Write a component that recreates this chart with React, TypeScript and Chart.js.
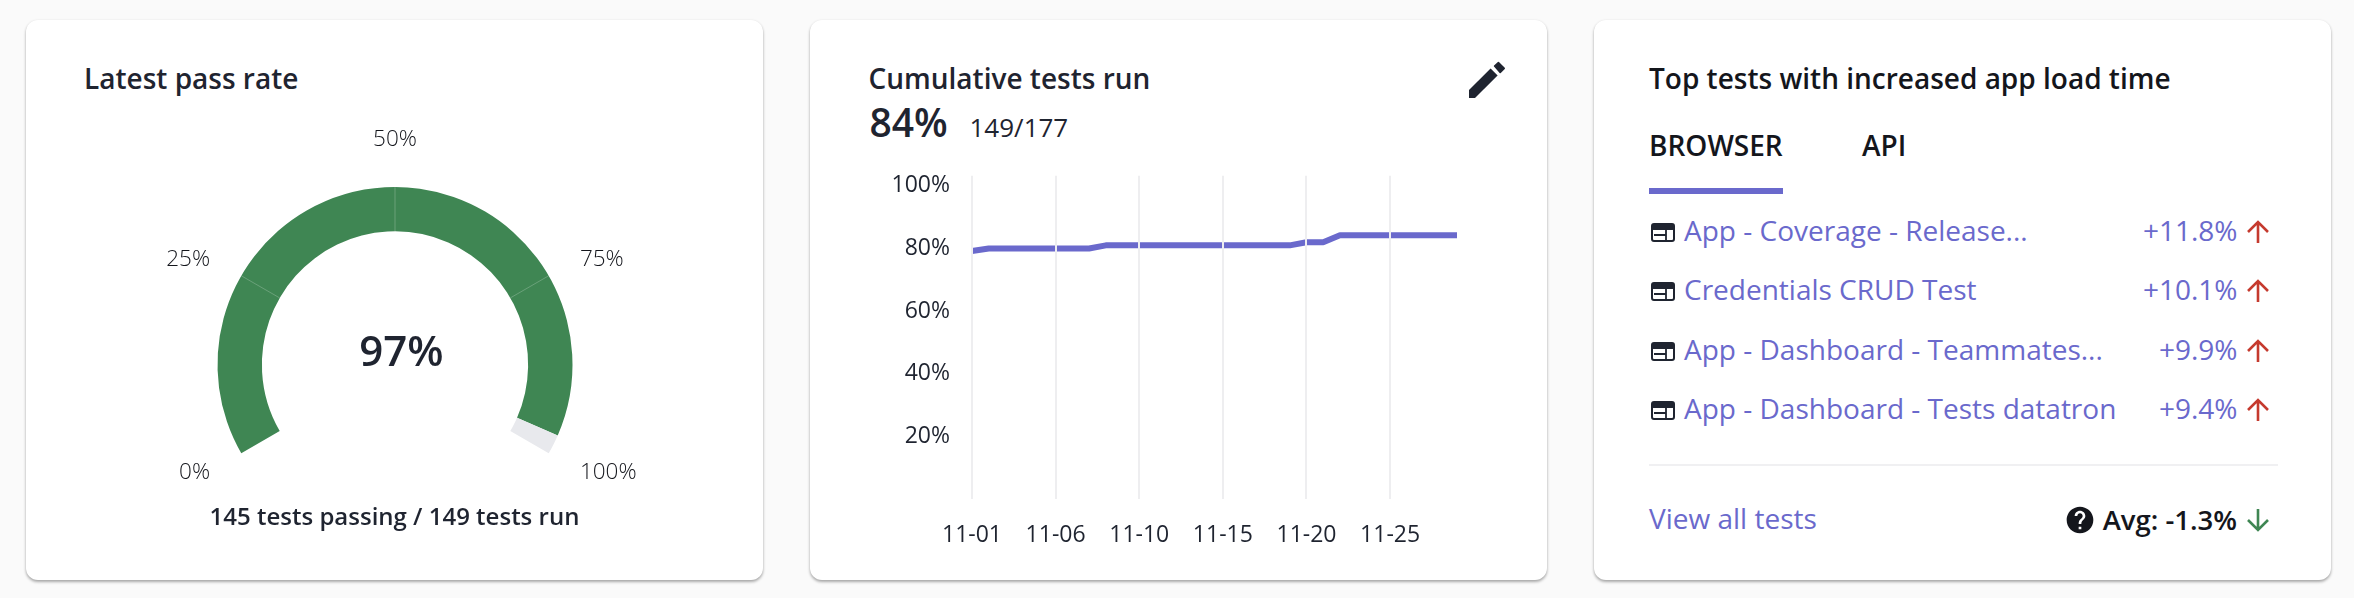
import React, { useEffect, useRef } from "react";
import { Chart, registerables } from "chart.js";

Chart.register(...registerables);

const gaugeLabels = ["Passing", "Not passing"];
const gaugeValues = [145, 4];
const gaugeTicks = [0, 25, 50, 75, 100];

const dates = [
  "11-01", "11-02", "11-03", "11-04", "11-05", "11-06", "11-07", "11-07", "11-08", "11-09",
  "11-10", "11-11", "11-12", "11-13", "11-14", "11-15", "11-16", "11-17", "11-18", "11-19",
  "11-20", "11-21", "11-22", "11-23", "11-24", "11-25", "11-26", "11-27", "11-28", "11-29",
];
const cumulative = [
  79.2, 80, 80, 80, 80, 80, 80, 80, 81, 81,
  81, 81, 81, 81, 81, 81, 81, 81, 81, 81,
  82, 82, 84.2, 84.2, 84.2, 84.2, 84.2, 84.2, 84.2, 84.2,
];

const testNames = [
  "App - Coverage - Release...",
  "Credentials CRUD Test",
  "App - Dashboard - Teammates...",
  "App - Dashboard - Tests datatron",
];
const testChanges = ["+11.8%", "+10.1%", "+9.9%", "+9.4%"];

const FONT = '"Open Sans", sans-serif';
const INK = "#1f2430";
const BLACK = "#14161c";
const PURPLE = "#6a69cc";
const GREEN = "#3f8653";
const RED = "#c53a2e";
const GRID = "#eeeef0";

const gaugePlugin = {
  id: "gaugeDecor",
  afterDatasetsDraw(chart: any) {
    const arc = chart.getDatasetMeta(0).data[0];
    if (!arc) return;
    const { x, y, innerRadius, outerRadius } = arc;
    const ctx = chart.ctx;
    ctx.save();
    gaugeTicks.forEach((tick) => {
      const a = ((-120 + (tick / 100) * 240 - 90) * Math.PI) / 180;
      const c = Math.cos(a);
      const s = Math.sin(a);
      if (tick > 0 && tick < 100) {
        ctx.strokeStyle = "rgba(255,255,255,0.22)";
        ctx.lineWidth = 1;
        ctx.beginPath();
        ctx.moveTo(x + c * innerRadius, y + s * innerRadius);
        ctx.lineTo(x + c * outerRadius, y + s * outerRadius);
        ctx.stroke();
      }
      const r = outerRadius + 36;
      ctx.font = `300 22.5px ${FONT}`;
      ctx.fillStyle = BLACK;
      ctx.textAlign = tick < 50 ? "right" : tick > 50 ? "left" : "center";
      ctx.textBaseline = tick === 50 ? "bottom" : "middle";
      ctx.fillText(`${tick}%`, x + c * r, y + s * r + (tick === 50 ? 0 : 1.5));
    });
    ctx.restore();
  },
};

function T(props: {
  x: number;
  y: number;
  size: number;
  weight?: number;
  color?: string;
  align?: "left" | "right" | "center";
  children: React.ReactNode;
}) {
  const { x, y, size, weight = 400, color = INK, align = "left", children } = props;
  const tx = align === "left" ? "0" : align === "right" ? "-100%" : "-50%";
  return (
    <div
      style={{
        position: "absolute",
        left: x,
        top: y,
        transform: `translate(${tx}, -50%)`,
        font: `${weight} ${size}px/1.2 ${FONT}`,
        color,
        whiteSpace: "nowrap",
      }}
    >
      {children}
    </div>
  );
}

function Arrow({ x, y, up, color }: { x: number; y: number; up: boolean; color: string }) {
  return (
    <svg
      style={{ position: "absolute", left: x, top: y, transform: up ? undefined : "rotate(180deg)" }}
      width={24}
      height={24}
      viewBox="0 0 24 24"
    >
      <path d="M12 23V2M2 12L12 2l10 10" fill="none" stroke={color} strokeWidth={2.6} />
    </svg>
  );
}

function BrowserIcon({ x, y }: { x: number; y: number }) {
  return (
    <svg style={{ position: "absolute", left: x, top: y }} width={24} height={19} viewBox="0 0 24 19">
      <rect x={1} y={1} width={22} height={17} rx={2} fill="none" stroke={INK} strokeWidth={2} />
      <rect x={1} y={1} width={22} height={6} rx={1.5} fill={INK} />
      <path d="M3 12h12M15 7v10" fill="none" stroke={INK} strokeWidth={1.8} />
    </svg>
  );
}

function Card({ x }: { x: number }) {
  return (
    <div
      style={{
        position: "absolute",
        left: x,
        top: 20,
        width: 737,
        height: 560,
        background: "#fff",
        borderRadius: 12,
        boxShadow: "0 2px 3px rgba(0,0,0,0.32), 0 0 3px rgba(0,0,0,0.05)",
      }}
    />
  );
}

export default function App() {
  const gaugeRef = useRef<HTMLCanvasElement>(null);
  const lineRef = useRef<HTMLCanvasElement>(null);

  useEffect(() => {
    const gauge = new Chart(gaugeRef.current!, {
      type: "doughnut",
      data: {
        labels: gaugeLabels,
        datasets: [{ data: gaugeValues, backgroundColor: [GREEN, "#e8e9ed"], borderWidth: 0 }],
      },
      options: {
        animation: false,
        responsive: false,
        rotation: -120,
        circumference: 240,
        cutout: "75%",
        layout: { padding: { left: 67.5, right: 67.5, top: 77, bottom: 46.75 } },
        plugins: { legend: { display: false }, tooltip: { enabled: false } },
      },
      plugins: [gaugePlugin],
    } as any);

    const line = new Chart(lineRef.current!, {
      type: "line",
      data: {
        labels: dates,
        datasets: [
          {
            data: cumulative,
            borderColor: PURPLE,
            borderWidth: 6,
            pointRadius: 0,
            tension: 0,
            borderCapStyle: "butt",
            borderJoinStyle: "bevel",
          },
        ],
      },
      options: {
        animation: false,
        responsive: false,
        layout: { padding: { top: 10, right: 5 } },
        plugins: { legend: { display: false }, tooltip: { enabled: false } },
        scales: {
          x: {
            border: { display: false },
            grid: {
              color: (c: any) => (c.index % 5 === 0 && c.index < 29 ? GRID : "rgba(0,0,0,0)"),
              lineWidth: 2,
              z: 1,
              drawTicks: false,
            },
            ticks: {
              autoSkip: false,
              maxRotation: 0,
              padding: 23,
              color: INK,
              font: { family: FONT, size: 23, weight: "500" },
              callback: (_v: any, i: number) => (i % 5 === 0 && i < 29 ? dates[i] : ""),
            },
            afterFit: (s: any) => {
              s.height = 50;
            },
          },
          y: {
            min: 0,
            max: 103.2,
            border: { display: false },
            grid: { display: false, drawTicks: false },
            ticks: {
              stepSize: 20,
              includeBounds: false,
              padding: 22,
              color: INK,
              font: { family: FONT, size: 23, weight: "500" },
              callback: (v: any) => (v === 0 ? "" : `${v}%`),
            },
            afterFit: (s: any) => {
              s.width = 92;
            },
          },
        },
      },
    } as any);

    return () => {
      gauge.destroy();
      line.destroy();
    };
  }, []);

  return (
    <div style={{ position: "fixed", left: 0, top: 0, width: 2354, height: 598, background: "#fafafa", overflow: "hidden" }}>
      <Card x={26} />
      <Card x={810} />
      <Card x={1594} />

      <T x={84} y={79} size={28} weight={600}>Latest pass rate</T>
      <canvas ref={gaugeRef} width={490} height={390} style={{ position: "absolute", left: 150, top: 110 }} />
      <T x={401.5} y={350} size={42} weight={600} align="center">97%</T>
      <T x={394.5} y={516} size={24} weight={600} align="center">145 tests passing / 149 tests run</T>

      <T x={868.5} y={79} size={28} weight={600}>Cumulative tests run</T>
      <T x={869.5} y={122} size={39} weight={600}>84%</T>
      <T x={969.5} y={128} size={26} weight={500}>149/177</T>
      <svg style={{ position: "absolute", left: 1463, top: 56 }} width={48} height={48} viewBox="0 0 24 24">
        <path fill={INK} d="M3 17L13.8 6.2 17.3 9.7 6 21H3z" />
        <path fill={INK} stroke={INK} strokeWidth={0.8} strokeLinejoin="round" d="M15.8 5L17.7 3.3 20.6 6.2 18.6 8.2z" />
      </svg>
      <canvas ref={lineRef} width={600} height={409} style={{ position: "absolute", left: 880, top: 140 }} />

      <T x={1649} y={79} size={28} weight={600} color={BLACK}>Top tests with increased app load time</T>
      <T x={1649} y={146} size={28} weight={600} color={BLACK}>BROWSER</T>
      <T x={1862} y={146} size={28} weight={600} color={BLACK}>API</T>
      <div style={{ position: "absolute", left: 1649, top: 188, width: 134, height: 6, background: PURPLE }} />

      {testNames.map((name, i) => {
        const y = [231, 290, 350, 409][i];
        return (
          <React.Fragment key={name}>
            <BrowserIcon x={1651} y={y - 8} />
            <T x={1684} y={y} size={28} color={PURPLE}>{name}</T>
            <T x={2237.5} y={y} size={28} color={PURPLE} align="right">{testChanges[i]}</T>
            <Arrow x={2246} y={y - 11} up color={RED} />
          </React.Fragment>
        );
      })}

      <div style={{ position: "absolute", left: 1649, top: 464, width: 629, height: 2, background: "#f0f0f2" }} />
      <T x={1649} y={519} size={28} color={PURPLE}>View all tests</T>
      <svg style={{ position: "absolute", left: 2064, top: 504 }} width={32} height={32} viewBox="0 0 24 24">
        <path
          fill={BLACK}
          d="M12 2C6.48 2 2 6.48 2 12s4.48 10 10 10 10-4.48 10-10S17.52 2 12 2zm1 17h-2v-2h2v2zm2.07-7.75l-.9.92C13.45 12.9 13 13.5 13 15h-2v-.5c0-1.1.45-2.1 1.17-2.83l1.24-1.26c.37-.36.59-.86.59-1.41 0-1.1-.9-2-2-2s-2 .9-2 2H8c0-2.21 1.79-4 4-4s4 1.79 4 4c0 .88-.36 1.68-.93 2.25z"
        />
      </svg>
      <T x={2237} y={519} size={27.5} weight={600} color={BLACK} align="right">Avg: -1.3%</T>
      <Arrow x={2246} y={508} up={false} color={GREEN} />
    </div>
  );
}
